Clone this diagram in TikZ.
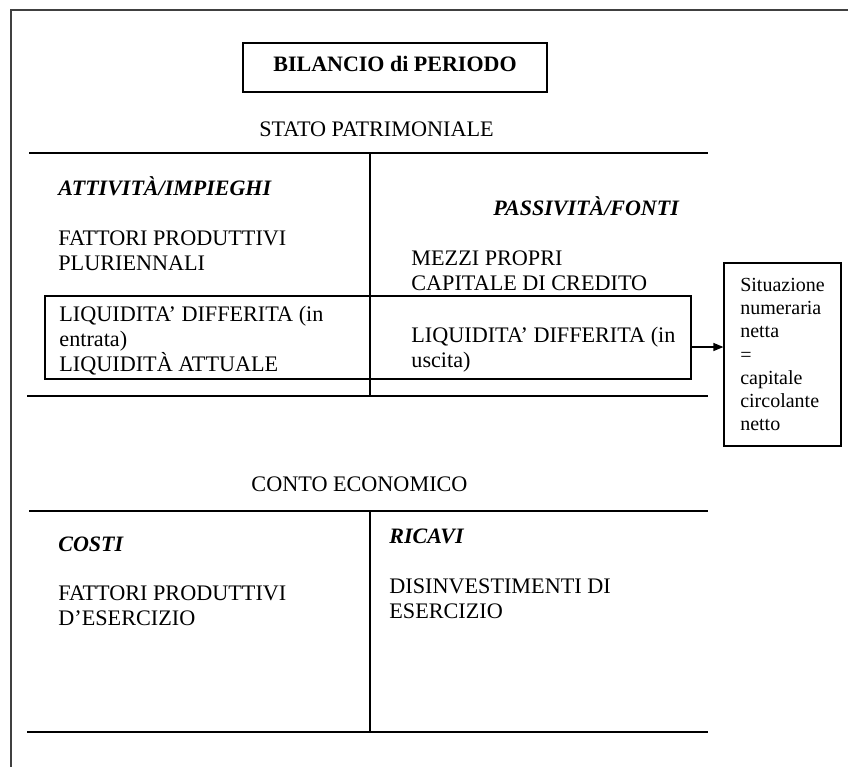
\documentclass[tikz,border=0pt]{standalone}
\usepackage{fontspec}
\setmainfont{Liberation Serif}
\usepackage{tikz}
\usetikzlibrary{arrows.meta, positioning}
\definecolor{Ink}{HTML}{000000}
\definecolor{Frame}{HTML}{404040}

\begin{document}
\begin{tikzpicture}[
  x=0.5pt, y=-0.5pt,
  font=\fontsize{11.1}{12.5}\selectfont,
  txt/.style={anchor=base west, inner sep=0pt, align=left, text=Ink},
  head/.style={txt, font=\fontsize{11}{12.5}\selectfont\bfseries\itshape},
  box/.style={draw=Ink, line width=0.6pt, inner sep=0pt},
  hline/.style={draw=Ink, line width=0.6pt},
  arrow/.style={-{Triangle[length=5pt, width=4pt]}, line width=0.6pt, draw=Ink}
]
\useasboundingbox (0,0) rectangle (848,767);
\draw[Frame, line width=1pt] (11,767) -- (11,10) -- (848,10);

\node[box, font=\fontsize{11}{12.5}\selectfont\bfseries, minimum width=152pt, minimum height=24.5pt, text height=7.5pt, text depth=3.5pt] (title) at (395,67.5) {BILANCIO di PERIODO};

% stato patrimoniale
\node[anchor=base, inner sep=0pt] (sp) at (376.5,136.3) {STATO PATRIMONIALE};
\draw[hline] (29,153) -- (708,153);
\draw[hline] (370,153) -- (370,396);
\draw[hline] (27,396) -- (708,396);

% base of a block = base of its last line
\node[head] (att) at (58,195) {ATTIVITÀ/IMPIEGHI};
\node[txt] (plur) at (58,270) {FATTORI PRODUTTIVI\\PLURIENNALI};
\node[txt] (liqin) at (59,371) {LIQUIDITA’ DIFFERITA (in\\entrata)\\LIQUIDITÀ ATTUALE};

\node[head] (pass) at (493,215) {PASSIVITÀ/FONTI};
\node[txt] (mezzi) at (411,290) {MEZZI PROPRI\\CAPITALE DI CREDITO};
\node[txt] (liqout) at (411,367) {LIQUIDITA’ DIFFERITA (in\\uscita)};

\node[box, minimum width=323pt, minimum height=41.5pt] (liq) at (368,337.5) {};
\node[box, align=left, minimum width=58.5pt, minimum height=91.5pt, font=\fontsize{10}{11.65}\selectfont] (circ) at (782.5,354.5) {Situazione\\numeraria\\netta\\=\\capitale\\circolante\\netto};
\draw[arrow] ([yshift=-4.75pt]liq.east) -- ([yshift=-4.75pt]liq.east -| circ.west);

% conto economico
\node[anchor=base, inner sep=0pt] (ce) at (359.5,491) {CONTO ECONOMICO};
\draw[hline] (29,511) -- (708,511);
\draw[hline] (370,511) -- (370,732);
\draw[hline] (27,732) -- (708,732);

\node[head] (costi) at (58,551) {COSTI};
\node[txt] (fatt) at (58,625.5) {FATTORI PRODUTTIVI\\D’ESERCIZIO};
\node[head] (ricavi) at (389,543) {RICAVI};
\node[txt] (disinv) at (389,618.5) {DISINVESTIMENTI DI\\ESERCIZIO};
\end{tikzpicture}
\end{document}
